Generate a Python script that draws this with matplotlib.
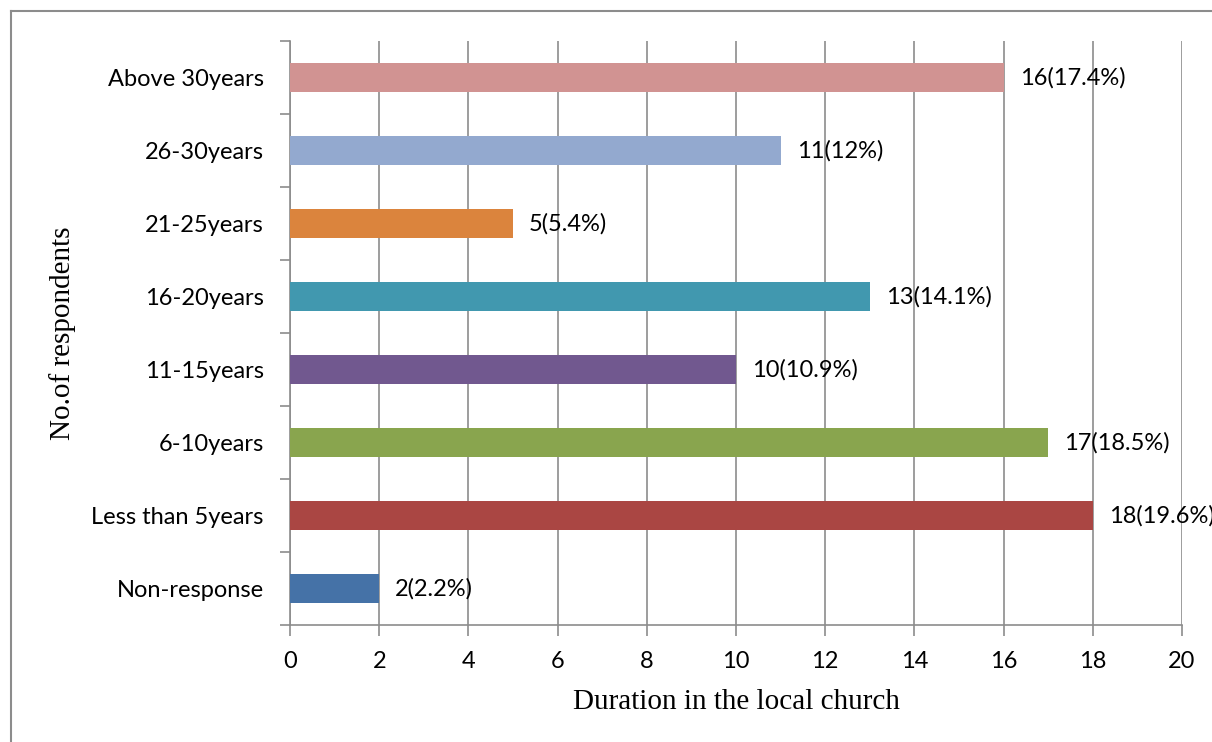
import matplotlib.pyplot as plt
from matplotlib.lines import Line2D

# Survey data: duration of membership in the local church
categories = ["Non-response", "Less than 5years", "6-10years", "11-15years",
              "16-20years", "21-25years", "26-30years", "Above 30years"]
counts = [2, 18, 17, 10, 13, 5, 11, 16]
percents = ["2.2", "19.6", "18.5", "10.9", "14.1", "5.4", "12", "17.4"]
colors = ["#4572A7", "#AA4643", "#89A54E", "#71588F",
          "#4198AF", "#DB843D", "#93A9CF", "#D19392"]

label_font = "Lato"
title_font = "Liberation Serif"
W, H = 1212, 742

fig = plt.figure(figsize=(W / 100, H / 100), dpi=100)
ax = fig.add_axes([290 / W, 1 - 625 / H, (1182 - 290) / W, (625 - 41) / H])

y = list(range(len(categories)))
ax.barh(y, counts, height=0.41, color=colors, zorder=3)

for yi, c, p in zip(y, counts, percents):
    ax.text(c + 0.36, yi, f"{c}({p}%)", va="center", ha="left",
            fontsize=17, family=label_font, zorder=4, clip_on=False)

ax.set_xlim(0, 20)
ax.set_ylim(-0.5, len(categories) - 0.5)
ax.set_xticks(range(0, 21, 2))
ax.set_xticklabels([str(v) for v in range(0, 21, 2)], fontsize=17, family=label_font)

# category labels centred on bars, tick marks at category boundaries
ax.set_yticks(y)
ax.set_yticklabels(categories, fontsize=17, family=label_font)
ax.set_yticks([v - 0.5 for v in range(len(categories) + 1)], minor=True)
ax.tick_params(axis="y", which="major", length=0, pad=19)
ax.tick_params(axis="y", which="minor", length=7, color="#8C8C8C", width=1.2)
ax.tick_params(axis="x", length=8, color="#8C8C8C", width=1.2, pad=11)

ax.grid(axis="x", color="#8C8C8C", linewidth=1.2, zorder=0)
for side in ["top", "right"]:
    ax.spines[side].set_visible(False)
for side in ["left", "bottom"]:
    ax.spines[side].set_color("#8C8C8C")
    ax.spines[side].set_linewidth(1.2)

ax.set_xlabel("Duration in the local church", fontsize=21, family=title_font, labelpad=12)
fig.text(63 / W, 1 - 333 / H, "No.of respondents", rotation=90, va="center",
         ha="center", fontsize=21, family=title_font)

# outer frame of the chart area (left and top edges)
fig.add_artist(Line2D([11 / W, 11 / W], [0, 1 - 11 / H], transform=fig.transFigure,
                      color="#8C8C8C", linewidth=1.5))
fig.add_artist(Line2D([11 / W, 1], [1 - 11 / H, 1 - 11 / H], transform=fig.transFigure,
                      color="#8C8C8C", linewidth=1.5))

fig.savefig("out.png", dpi=100)
